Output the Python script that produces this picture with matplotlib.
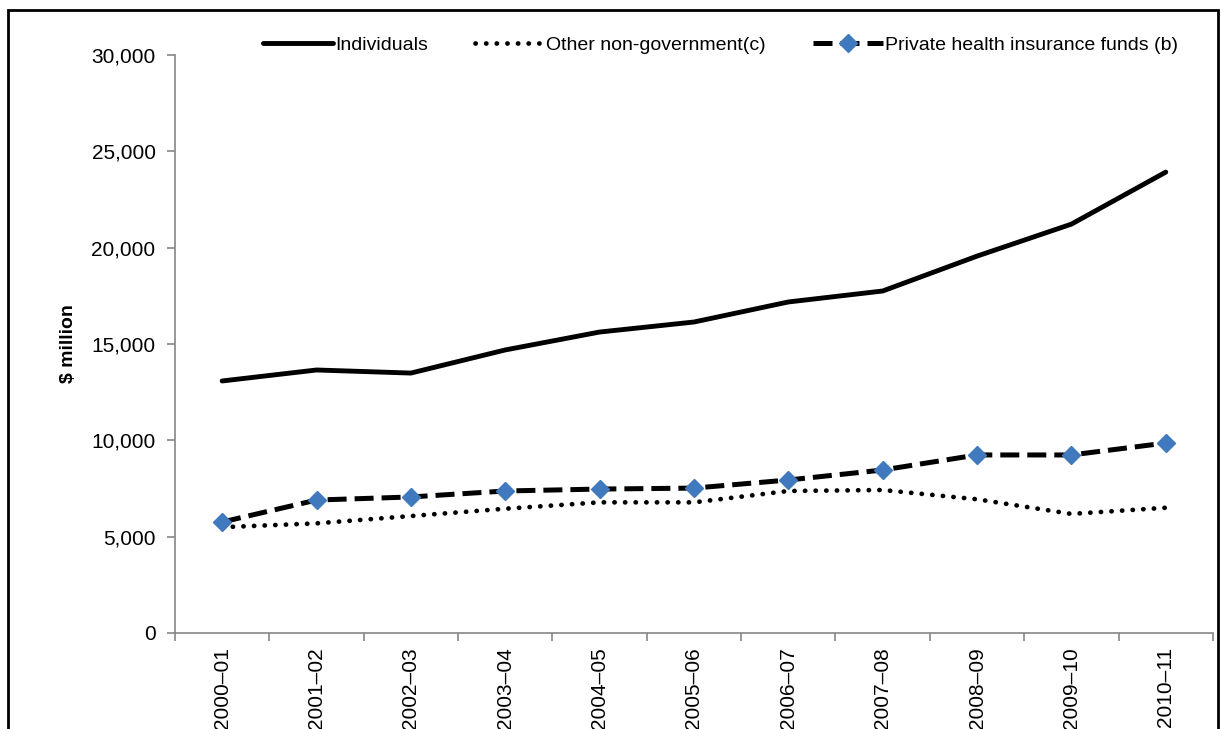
import matplotlib.pyplot as plt
from matplotlib.patches import Rectangle
from matplotlib.ticker import FuncFormatter

plt.rcParams['font.family'] = ['Liberation Sans', 'DejaVu Sans']

years = ['2000\u201301', '2001\u201302', '2002\u201303', '2003\u201304', '2004\u201305',
         '2005\u201306', '2006\u201307', '2007\u201308', '2008\u201309', '2009\u201310',
         '2010\u201311']
individuals = [13080, 13650, 13490, 14690, 15620, 16140, 17180, 17750, 19560, 21220, 23920]
other_nongov = [5490, 5690, 6070, 6450, 6780, 6780, 7370, 7420, 6940, 6180, 6500]
private_insurance = [5760, 6900, 7060, 7370, 7470, 7520, 7940, 8460, 9240, 9240, 9860]

fig = plt.figure(figsize=(12.21, 7.29), dpi=100)
ax = fig.add_axes([0.1433, 0.1317, 0.8501, 0.7929])

x = list(range(len(years)))
ax.plot(x, individuals, color='black', lw=3.5, solid_capstyle='round',
        label='Individuals')
ax.plot(x, other_nongov, color='black', lw=3.4, linestyle=(0, (0.05, 2.2)),
        dash_capstyle='round', label='Other non-government(c)')
ax.plot(x, private_insurance, color='black', lw=3.6, dashes=(3.8, 1.6),
        marker='D', markersize=9.5, markerfacecolor='#4079bd',
        markeredgecolor='#4079bd', label='Private health insurance funds (b)')

ax.set_xlim(-0.5, 10.5)
ax.set_ylim(0, 30000)
ax.set_yticks(range(0, 30001, 5000))
ax.yaxis.set_major_formatter(FuncFormatter(lambda v, p: f'{int(v):,}'))
ax.set_xticks(x)
ax.set_xticklabels(years, rotation=90)
ax.set_xticks([i - 0.5 for i in range(len(years) + 1)], minor=True)
ax.tick_params(axis='x', which='major', length=0, pad=10, labelsize=15)
ax.tick_params(axis='x', which='minor', length=6, color='#868686', width=1.2)
ax.tick_params(axis='y', length=6, color='#868686', width=1.2, pad=8, labelsize=15)

for side in ['top', 'right']:
    ax.spines[side].set_visible(False)
for side in ['left', 'bottom']:
    ax.spines[side].set_color('#868686')
    ax.spines[side].set_linewidth(1.2)

ax.set_ylabel('$ million', fontsize=14, fontweight='bold', labelpad=10)

fig.legend(loc='center', bbox_to_anchor=(0.59, 0.938), ncol=3, frameon=False,
           fontsize=14, handlelength=3.6, columnspacing=2.4, handletextpad=0.1)

# outer frame around the whole chart
fig.patches.append(Rectangle((0.0066, -0.05), 0.9906, 1.036, transform=fig.transFigure,
                             fill=False, edgecolor='black', lw=2))

fig.savefig('out.png', dpi=100)
